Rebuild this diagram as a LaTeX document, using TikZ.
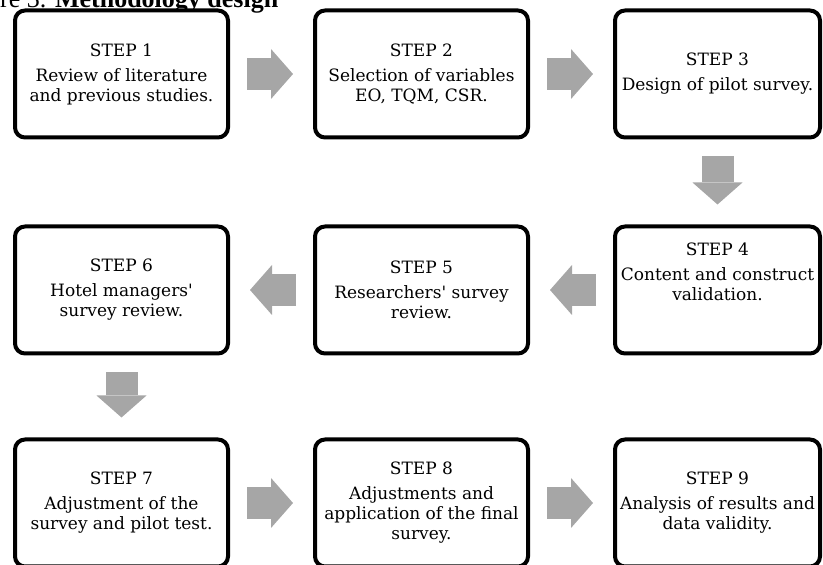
\documentclass[tikz,border=0pt]{standalone}
\usepackage{fontspec}
\usepackage{tikz}
\usetikzlibrary{arrows.meta, positioning}
\newfontfamily\stepfont{DejaVu Serif}
\newfontfamily\titlefont{Liberation Serif}
\definecolor{arrowgray}{RGB}{166, 166, 166}
\tikzset{
  >=Stealth,
  stepbox/.style={draw=black, line width=4pt, rounded corners=10pt, fill=white,
    minimum width=213pt, minimum height=127pt, inner sep=0pt, align=center,
    font=\stepfont\fontsize{17}{20}\selectfont},
  stepbox_narrow/.style={stepbox, minimum width=205pt},
  blockarrow/.style={-{Triangle[length=22pt, width=50pt, line width=0pt]},
    line width=32pt, arrowgray, shorten <=17pt, shorten >=20pt}
}

\begin{document}
\begin{tikzpicture}[x=1pt, y=1pt]
    \useasboundingbox (0,0) rectangle (823,565);
    \node (title) [anchor=base west, inner sep=0pt, font=\titlefont\fontsize{26}{30}\selectfont] at (0,557) {re 3. \textbf{Methodology design}};

    % top row
    \node (s1) [stepbox] at (121.5,491) {STEP 1\\[5pt]Review of literature\\and previous studies.};
    \node (s2) [stepbox, right=83pt of s1] {STEP 2\\[5pt]Selection of variables\\EO, TQM, CSR.};
    \node (s3) [stepbox_narrow, right=83pt of s2] {STEP 3\\[5pt]Design of pilot survey.};

    % middle row
    \node (s4) [stepbox_narrow, text depth=36pt, below=85pt of s3] {STEP 4\\[5pt]Content and construct\\validation.};
    \node (s5) [stepbox, below=85pt of s2] {STEP 5\\[5pt]Researchers' survey\\review.};
    \node (s6) [stepbox, below=85pt of s1] {STEP 6\\[5pt]Hotel managers'\\survey review.};

    % bottom row
    \node (s7) [stepbox, below=82pt of s6] {STEP 7\\[5pt]Adjustment of the\\survey and pilot test.};
    \node (s8) [stepbox, below=82pt of s5] {STEP 8\\[5pt]Adjustments and\\application of the final\\survey.};
    \node (s9) [stepbox_narrow, below=82pt of s4] {STEP 9\\[5pt]Analysis of results and\\data validity.};

    \draw[blockarrow] (s1) -- (s2);
    \draw[blockarrow] (s2) -- (s3);
    \draw[blockarrow] (s3) -- (s4);
    \draw[blockarrow] (s4) -- (s5);
    \draw[blockarrow] (s5) -- (s6);
    \draw[blockarrow] (s6) -- (s7);
    \draw[blockarrow] (s7) -- (s8);
    \draw[blockarrow] (s8) -- (s9);
\end{tikzpicture}
\end{document}
